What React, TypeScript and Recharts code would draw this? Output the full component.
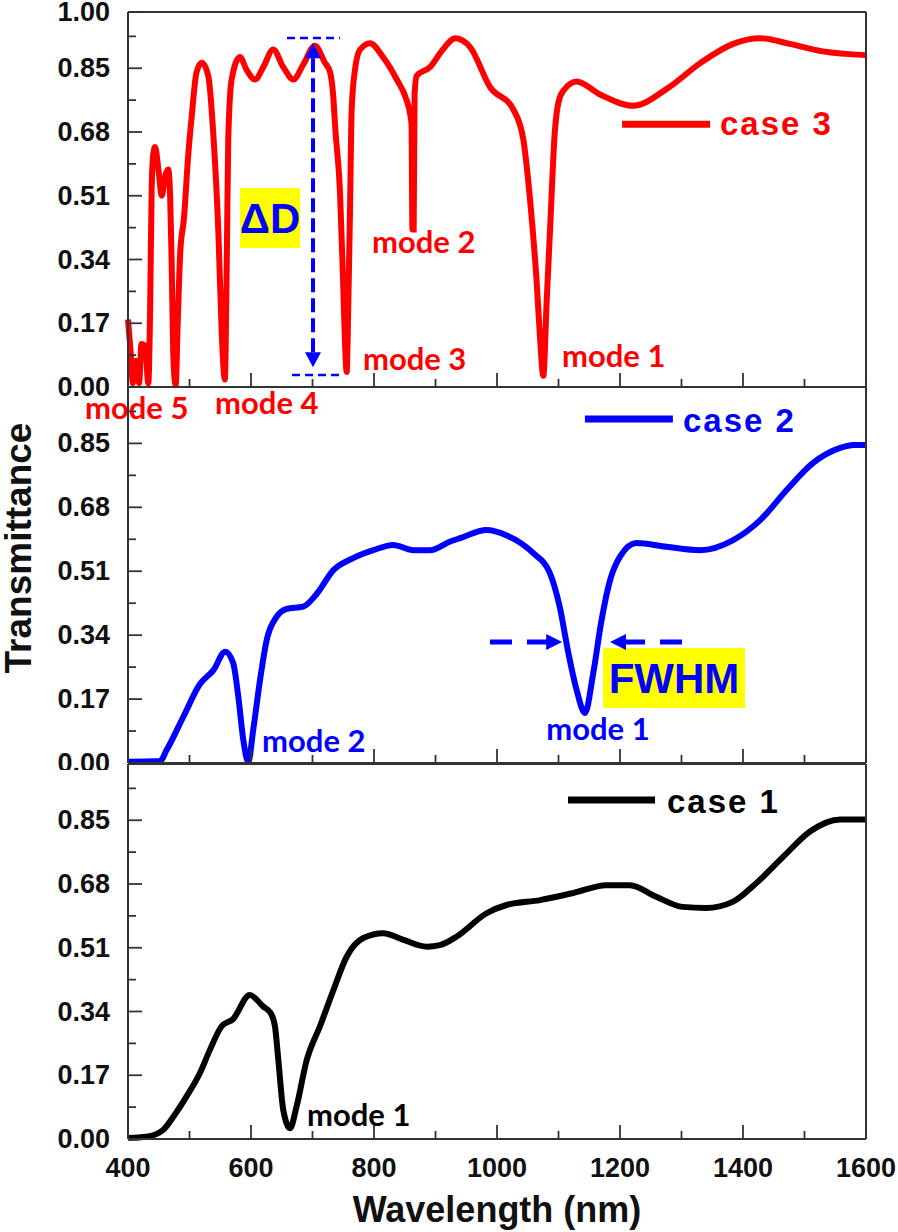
import React from 'react'
import {
  LineChart,
  Line,
  XAxis,
  YAxis,
  ReferenceLine,
  ReferenceDot,
  ReferenceArea,
} from 'recharts'

// wavelength (nm) and transmittance
const case3Wl = [
  400, 404, 408, 413, 418, 422, 428, 433, 436, 438.5, 441, 444, 449.5, 455, 460, 465.5, 468.5, 471, 474,
  477.5, 481, 485, 491, 498, 503.5, 511.5, 520, 530.5, 538.5, 547, 552.5, 557.5, 560.5, 563, 568.5, 582,
  593, 606.5, 620, 636, 652.5, 669, 685, 704, 720, 728.5, 734, 737, 744.7, 749.6, 752.8, 755.6, 758, 761,
  763.7, 769, 777.4, 793.5, 814.6, 837, 853, 858.5, 861, 862.5, 864.5, 866, 869.4, 891, 912, 932, 956,
  988.6, 1026.5, 1042.8, 1053.7, 1064.5, 1070, 1075.3, 1080.8, 1086, 1094, 1100, 1107.8, 1129.5, 1167.5,
  1221.7, 1276, 1330, 1384, 1427.6, 1476, 1530, 1600,
]
const case3T = [
  0.18, 0.1, 0.01, 0.07, 0.01, 0.115, 0.11, 0.01, 0.21, 0.53, 0.62, 0.64, 0.58, 0.51, 0.56, 0.58, 0.51, 0.33,
  0.07, 0.005, 0.18, 0.36, 0.45, 0.62, 0.72, 0.84, 0.865, 0.83, 0.68, 0.41, 0.14, 0.02, 0.32, 0.66, 0.82,
  0.88, 0.845, 0.82, 0.853, 0.9, 0.853, 0.82, 0.86, 0.91, 0.865, 0.84, 0.77, 0.69, 0.52, 0.29, 0.12, 0.04,
  0.2, 0.47, 0.74, 0.845, 0.9, 0.917, 0.88, 0.82, 0.765, 0.73, 0.7, 0.42, 0.42, 0.78, 0.83, 0.853, 0.9,
  0.93, 0.907, 0.8, 0.74, 0.66, 0.5, 0.28, 0.13, 0.03, 0.23, 0.41, 0.68, 0.76, 0.79, 0.815, 0.78, 0.75,
  0.795, 0.863, 0.915, 0.93, 0.915, 0.895, 0.885,
]

const case2Wl = [
  400, 452, 463, 490, 517, 539, 558, 571, 579.4, 587.5, 595.6, 603.6, 614.6, 625.5, 641.8, 658, 685, 707,
  734, 766, 799, 831, 864, 891, 924, 940, 983, 1015, 1059, 1086, 1102, 1116, 1129.5, 1143, 1156.5, 1170,
  1184, 1200, 1227, 1276, 1330, 1384, 1428, 1471, 1514, 1558, 1580, 1600,
]
const case2T = [
  0.003, 0.005, 0.035, 0.123, 0.21, 0.247, 0.296, 0.266, 0.176, 0.061, 0.003, 0.088, 0.22, 0.327, 0.389,
  0.41, 0.416, 0.45, 0.513, 0.545, 0.566, 0.58, 0.566, 0.566, 0.589, 0.598, 0.62, 0.606, 0.558, 0.505,
  0.415, 0.293, 0.194, 0.133, 0.239, 0.38, 0.487, 0.549, 0.585, 0.575, 0.566, 0.593, 0.646, 0.726, 0.798,
  0.838, 0.846, 0.846,
]

const case1Wl = [
  400, 430, 457, 474, 495, 517, 533, 552, 571, 598, 620, 632, 639, 644.5, 652.5, 663.5, 674, 690.5, 712,
  734, 755.5, 782.5, 815, 848, 886, 907, 934.5, 983, 1015.5, 1070, 1124, 1178, 1216, 1259, 1302, 1340,
  1384, 1422, 1465.5, 1509, 1558, 1600,
]
const case1T = [
  0.003, 0.006, 0.024, 0.06, 0.113, 0.176, 0.237, 0.3, 0.32, 0.384, 0.353, 0.336, 0.3, 0.21, 0.077, 0.029,
  0.086, 0.21, 0.3, 0.397, 0.486, 0.536, 0.549, 0.531, 0.513, 0.517, 0.54, 0.602, 0.624, 0.637, 0.656,
  0.677, 0.677, 0.646, 0.619, 0.616, 0.633, 0.683, 0.753, 0.82, 0.852, 0.852,
]

const xMajor = [400, 600, 800, 1000, 1200, 1400, 1600]
const xMinor = [500, 700, 900, 1100, 1300, 1500]
const yMajor = [0, 0.17, 0.34, 0.51, 0.68, 0.85, 1.0]
const yMinor = [0.085, 0.255, 0.425, 0.595, 0.765, 0.935]

const RED = '#ff0000'
const BLUE = '#0000ff'
const BLACK = '#000000'
const AXIS = '#333333'
const ARIAL = "'Liberation Sans', Arial, sans-serif"
const NOTE_FONT = "Lato, 'Liberation Sans', sans-serif"

const xTicks = [...xMajor, ...xMinor].sort((a, b) => a - b)
const yTicks = [...yMajor, ...yMinor].sort((a, b) => a - b)

const toRows = (wl: number[], t: number[]) => wl.map((w, i) => ({ wl: w, t: t[i] }))

// ---- ticks (drawn inward, like the Origin plot) ----
const leftTick = (showTop: boolean) => (p: any) => {
  const v = p.payload.value
  const major = yMajor.includes(v)
  return (
    <g>
      <line x1={p.x} x2={p.x + (major ? 14 : 8)} y1={p.y} y2={p.y} stroke={AXIS} strokeWidth={1.8} />
      {major && (showTop || v < 1) && (
        <text x={p.x - 18} y={p.y + 9} textAnchor="end" fontFamily={ARIAL} fontSize={27} fontWeight="bold" fill="#111">
          {v.toFixed(2)}
        </text>
      )}
    </g>
  )
}

const rightTick = (p: any) => {
  const major = yMajor.includes(p.payload.value)
  return <line x1={p.x} x2={p.x - (major ? 14 : 8)} y1={p.y} y2={p.y} stroke={AXIS} strokeWidth={1.8} />
}

const topTick = (p: any) => {
  const major = xMajor.includes(p.payload.value)
  return <line x1={p.x} x2={p.x} y1={p.y} y2={p.y + (major ? 14 : 8)} stroke={AXIS} strokeWidth={1.8} />
}

const bottomTick = (labels: boolean) => (p: any) => {
  const v = p.payload.value
  const major = xMajor.includes(v)
  return (
    <g>
      <line x1={p.x} x2={p.x} y1={p.y} y2={p.y - (major ? 14 : 8)} stroke={AXIS} strokeWidth={1.8} />
      {labels && major && (
        <text x={p.x} y={p.y + 38} textAnchor="middle" fontFamily={ARIAL} fontSize={27} fontWeight="bold" fill="#111">
          {v}
        </text>
      )}
    </g>
  )
}

// ---- annotation helpers ----
const noteShape = (text: string, color: string, size = 31, family = NOTE_FONT, spacing = 0) => (p: any) => (
  <text x={p.cx} y={p.cy} fill={color} fontSize={size} fontWeight="bold" fontFamily={family} letterSpacing={spacing}>
    {text}
  </text>
)

const headShape = (dir: 'up' | 'down' | 'left' | 'right') => (p: any) => {
  const { cx, cy } = p
  const pts =
    dir === 'up'
      ? `${cx},${cy} ${cx - 8},${cy + 15} ${cx + 8},${cy + 15}`
      : dir === 'down'
        ? `${cx},${cy} ${cx - 8},${cy - 15} ${cx + 8},${cy - 15}`
        : dir === 'right'
          ? `${cx},${cy} ${cx - 16},${cy - 8} ${cx - 16},${cy + 8}`
          : `${cx},${cy} ${cx + 16},${cy - 8} ${cx + 16},${cy + 8}`
  return <polygon points={pts} fill={BLUE} />
}

const note = (key: string, x: number, y: number, text: string, color: string) => (
  <ReferenceDot key={key} x={x} y={y} ifOverflow="visible" shape={noteShape(text, color)} />
)

// legend entry: short thick line and the case name
const caseKey = (key: string, x1: number, x2: number, y: number, tx: number, ty: number, text: string, color: string) => [
  <ReferenceLine key={`${key}-l`} segment={[{ x: x1, y }, { x: x2, y }]} stroke={color} strokeWidth={7} />,
  <ReferenceDot key={`${key}-t`} x={tx} y={ty} ifOverflow="visible" shape={noteShape(text, color, 33, ARIAL, 2)} />,
]

const head = (key: string, x: number, y: number, dir: 'up' | 'down' | 'left' | 'right') => (
  <ReferenceDot key={key} x={x} y={y} ifOverflow="visible" shape={headShape(dir)} />
)

interface PanelProps {
  top: number
  height: number
  margin: { top: number; bottom: number }
  rows: { wl: number; t: number }[]
  color: string
  showTop: boolean
  xLabels: boolean
  yTitle?: boolean
  xTitle?: boolean
  children?: React.ReactNode
}

// x axes are 1px tall, so the margins are 1px less than the gap to the plot box
function Panel({ top, height, margin, rows, color, showTop, xLabels, yTitle, xTitle, children }: PanelProps) {
  return (
    <div style={{ position: 'absolute', left: 0, top, width: 898, height }}>
      <LineChart
        width={898}
        height={height}
        data={rows}
        margin={{ top: margin.top - 1, bottom: margin.bottom - 1, left: 0, right: 0 }}
      >
        <XAxis
          dataKey="wl"
          type="number"
          domain={[400, 1600]}
          ticks={xTicks}
          interval={0}
          height={1}
          tickSize={0}
          tickMargin={0}
          tickLine={false}
          axisLine={{ stroke: AXIS, strokeWidth: 2 }}
          tick={bottomTick(xLabels)}
          label={
            xTitle
              ? {
                  content: (lp: any) => (
                    <text
                      x={lp.viewBox.x + lp.viewBox.width / 2}
                      y={lp.viewBox.y + 83}
                      textAnchor="middle"
                      fontFamily={ARIAL}
                      fontSize={36}
                      fontWeight="bold"
                      fill="#111"
                    >
                      Wavelength (nm)
                    </text>
                  ),
                }
              : undefined
          }
        />
        <XAxis
          xAxisId="top"
          orientation="top"
          type="number"
          domain={[400, 1600]}
          ticks={xTicks}
          interval={0}
          height={1}
          tickSize={0}
          tickMargin={0}
          tickLine={false}
          axisLine={{ stroke: AXIS, strokeWidth: 2 }}
          tick={topTick}
        />
        <YAxis
          type="number"
          domain={[0, 1]}
          ticks={yTicks}
          interval={0}
          width={128}
          tickSize={0}
          tickMargin={0}
          tickLine={false}
          axisLine={{ stroke: AXIS, strokeWidth: 2 }}
          tick={leftTick(showTop)}
          label={
            yTitle
              ? {
                  content: () => (
                    <text
                      transform="translate(31, 168) rotate(-90)"
                      textAnchor="middle"
                      fontFamily={ARIAL}
                      fontSize={37}
                      fontWeight="bold"
                      fill="#111"
                    >
                      Transmittance
                    </text>
                  ),
                }
              : undefined
          }
        />
        <YAxis
          yAxisId="r"
          orientation="right"
          type="number"
          domain={[0, 1]}
          ticks={yTicks}
          interval={0}
          width={32}
          tickSize={0}
          tickMargin={0}
          tickLine={false}
          axisLine={{ stroke: AXIS, strokeWidth: 2 }}
          tick={rightTick}
        />
        {children}
        <Line
          dataKey="t"
          type="monotone"
          stroke={color}
          strokeWidth={6}
          dot={false}
          activeDot={false}
          isAnimationActive={false}
        />
      </LineChart>
    </div>
  )
}

export default function App() {
  return (
    <div style={{ position: 'absolute', left: 0, top: 0, width: 898, height: 1232, background: '#fff' }}>
      {/* case 3 */}
      <Panel top={0} height={430} margin={{ top: 12, bottom: 43 }} rows={toRows(case3Wl, case3T)} color={RED} showTop xLabels={false}>
        <ReferenceArea
          x1={582}
          x2={679.7}
          y1={0.371}
          y2={0.531}
          fill="#ffff00"
          fillOpacity={1}
          stroke="none"
          label={{ value: 'ΔD', position: 'center', fill: BLUE, fontSize: 42, fontWeight: 'bold', fontFamily: ARIAL }}
        />
        <ReferenceLine segment={[{ x: 658.5, y: 0.931 }, { x: 744.7, y: 0.931 }]} stroke={BLUE} strokeWidth={2.5} strokeDasharray="8 5" />
        <ReferenceLine segment={[{ x: 666.7, y: 0.032 }, { x: 749.6, y: 0.032 }]} stroke={BLUE} strokeWidth={2.5} strokeDasharray="8 5" />
        <ReferenceLine segment={[{ x: 700.8, y: 0.877 }, { x: 700.8, y: 0.091 }]} stroke={BLUE} strokeWidth={4} strokeDasharray="14 6" />
        {head('h1', 700.8, 0.917, 'up')}
        {head('h2', 700.8, 0.053, 'down')}
        {caseKey('k3', 1203.4, 1346.5, 0.701, 1362.6, 0.672, 'case 3', RED)}
        {note('m1', 1105.7, 0.053, 'mode 1', RED)}
        {note('m2', 796.7, 0.357, 'mode 2', RED)}
        {note('m3', 782, 0.045, 'mode 3', RED)}
        {note('m4', 541.5, -0.072, 'mode 4', RED)}
        {note('m5', 330, -0.085, 'mode 5', RED)}
      </Panel>

      {/* case 2 */}
      <Panel top={380} height={390} margin={{ top: 7, bottom: 7 }} rows={toRows(case2Wl, case2T)} color={BLUE} showTop={false} xLabels={false} yTitle>
        <ReferenceArea
          x1={1172.4}
          x2={1403.2}
          y1={0.146}
          y2={0.306}
          fill="#ffff00"
          fillOpacity={1}
          stroke="none"
          label={{ value: 'FWHM', position: 'center', fill: BLUE, fontSize: 42, fontWeight: 'bold', fontFamily: ARIAL }}
        />
        <ReferenceLine segment={[{ x: 988.6, y: 0.322 }, { x: 1096, y: 0.322 }]} stroke={BLUE} strokeWidth={5} strokeDasharray="22 15" />
        {head('f1', 1106, 0.322, 'right')}
        <ReferenceLine segment={[{ x: 1300.8, y: 0.322 }, { x: 1209.8, y: 0.322 }]} stroke={BLUE} strokeWidth={5} strokeDasharray="22 15" />
        {head('f2', 1183.7, 0.322, 'left')}
        {caseKey('k2', 1143, 1286, 0.915, 1302.4, 0.881, 'case 2', BLUE)}
        {note('n1', 1080, 0.061, 'mode 1', BLUE)}
        {note('n2', 618, 0.029, 'mode 2', BLUE)}
      </Panel>

      {/* case 1 */}
      <Panel top={757} height={475} margin={{ top: 7, bottom: 93 }} rows={toRows(case1Wl, case1T)} color={BLACK} showTop={false} xLabels xTitle>
        {caseKey('k1', 1115.5, 1257, 0.904, 1276.4, 0.869, 'case 1', BLACK)}
        {note('b1', 691, 0.035, 'mode 1', BLACK)}
      </Panel>
    </div>
  )
}
